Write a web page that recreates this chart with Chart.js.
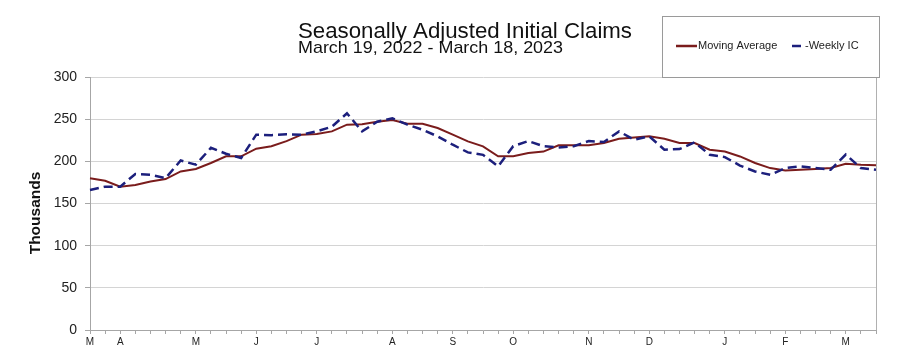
<!DOCTYPE html>
<html><head><meta charset="utf-8">
<script src="https://cdn.jsdelivr.net/npm/chart.js@4"></script>
<style>html,body{margin:0;padding:0;background:#fff}#wrap{width:900px;height:356px}</style>
</head><body><div id="wrap"><canvas id="c" width="900" height="356"></canvas></div>
<script>
// Week labels (Mar 19, 2022 .. Mar 18, 2023), month letter on first week of each month
const weekLabels = ['M','','A','','','','','M','','','','J','','','','J','','','','','A','','','','S','','','','O','','','','','N','','','','D','','','','','J','','','','F','','','','M','',''];
const movingAverage = [180,177,170,172,176,179,188,191,198,206,206,215,218,224,231.6,232.4,235.5,243.5,244,247,249,244.6,244.6,239.5,231.6,223.7,217.7,206,206,210,211.6,219,219,219,221.7,226.8,228.4,229.6,226.8,221.7,221.7,213.8,211.7,205.8,198,192,189,190,191,192,197,196,195.5];
const weeklyIC = [166,170,170,185,184,180,201,196,216,209,204,231.6,231,232,231.6,235.5,241,257,235.5,247,251,243.5,237.5,229.6,219.7,210.6,207.7,194,218,224,218,216.5,218,224,223,235.5,225.6,229.6,213.8,214.6,222.5,207.8,205,195,188,184,192,194,192,190,208,192,190];
const seriesNames = ['Moving Average','Weekly IC'];
const titleText = 'Seasonally Adjusted Initial Claims';
const subtitleText = 'March 19, 2022 - March 18, 2023';
const yTitle = 'Thousands';

const MA_COLOR = '#7a1c1c';
const IC_COLOR = '#1c1f7c';
const FONT = "'Liberation Sans', Arial, sans-serif";

function fitText(ctx, text, x, y, width) {
  const w = ctx.measureText(text).width;
  ctx.save();
  ctx.translate(x, y);
  ctx.scale(width / w, 1);
  ctx.fillText(text, 0, 0);
  ctx.restore();
}

const deco = {
  id: 'deco',
  afterDraw(chart) {
    const ctx = chart.ctx, a = chart.chartArea;
    ctx.save();
    // right plot border
    ctx.strokeStyle = '#b0b0b0'; ctx.lineWidth = 1;
    ctx.beginPath(); ctx.moveTo(Math.round(a.right) + 0.5, a.top); ctx.lineTo(Math.round(a.right) + 0.5, a.bottom); ctx.stroke();
    // titles
    ctx.fillStyle = '#111'; ctx.textBaseline = 'alphabetic'; ctx.textAlign = 'left';
    ctx.font = '22px ' + FONT;
    fitText(ctx, titleText, 298, 38, 334);
    ctx.font = '17px ' + FONT;
    fitText(ctx, subtitleText, 298, 53, 265);
    // y title
    ctx.save();
    ctx.translate(36, 213); ctx.rotate(-Math.PI / 2);
    ctx.font = 'bold 15.5px ' + FONT; ctx.textAlign = 'center'; ctx.textBaseline = 'middle';
    ctx.fillText(yTitle, 0, 0);
    ctx.restore();
    // legend box
    ctx.fillStyle = '#fff'; ctx.fillRect(662, 16, 218, 62);
    ctx.strokeStyle = '#9a9a9a'; ctx.lineWidth = 1;
    ctx.strokeRect(662.5, 16.5, 217, 61);
    const ly = 46;
    ctx.strokeStyle = MA_COLOR; ctx.lineWidth = 2.5; ctx.setLineDash([]);
    ctx.beginPath(); ctx.moveTo(676, ly); ctx.lineTo(697, ly); ctx.stroke();
    ctx.fillStyle = '#222'; ctx.font = '11px ' + FONT; ctx.textBaseline = 'middle';
    ctx.fillText(seriesNames[0], 698, ly);
    ctx.strokeStyle = IC_COLOR; ctx.lineWidth = 2.5;
    ctx.beginPath(); ctx.moveTo(792, ly); ctx.lineTo(801, ly); ctx.stroke();
    ctx.fillText('-' + seriesNames[1], 805, ly);
    ctx.restore();
  }
};

new Chart(document.getElementById('c'), {
  type: 'line',
  data: {
    labels: weekLabels,
    datasets: [
      { label: seriesNames[0], data: movingAverage, borderColor: MA_COLOR, borderWidth: 2, pointRadius: 0, tension: 0, order: 2, fill: false },
      { label: seriesNames[1], data: weeklyIC, borderColor: IC_COLOR, borderWidth: 2.5, borderDash: [9, 5], pointRadius: 0, tension: 0, order: 1, fill: false }
    ]
  },
  options: {
    responsive: false, animation: false, devicePixelRatio: 1,
    layout: { padding: { top: 77, right: 24, left: 0, bottom: 0 } },
    plugins: { legend: { display: false }, tooltip: { enabled: false }, title: { display: false } },
    scales: {
      x: {
        offset: false,
        grid: { drawOnChartArea: false, drawTicks: true, tickLength: 4, color: '#a6a6a6' },
        border: { color: '#a6a6a6' },
        ticks: { autoSkip: false, maxRotation: 0, minRotation: 0, padding: 2, font: { family: FONT, size: 10 }, color: '#222' },
        afterFit(s) { s.height = 26; }
      },
      y: {
        min: 0, max: 300,
        ticks: { stepSize: 50, font: { family: FONT, size: 14 }, color: '#222', padding: 8 },
        grid: { color: '#d4d4d4', tickLength: 5, tickColor: '#a6a6a6' },
        border: { color: '#a6a6a6' },
        afterFit(s) { s.width = 90; }
      }
    }
  },
  plugins: [deco]
});
</script>
</body></html>
